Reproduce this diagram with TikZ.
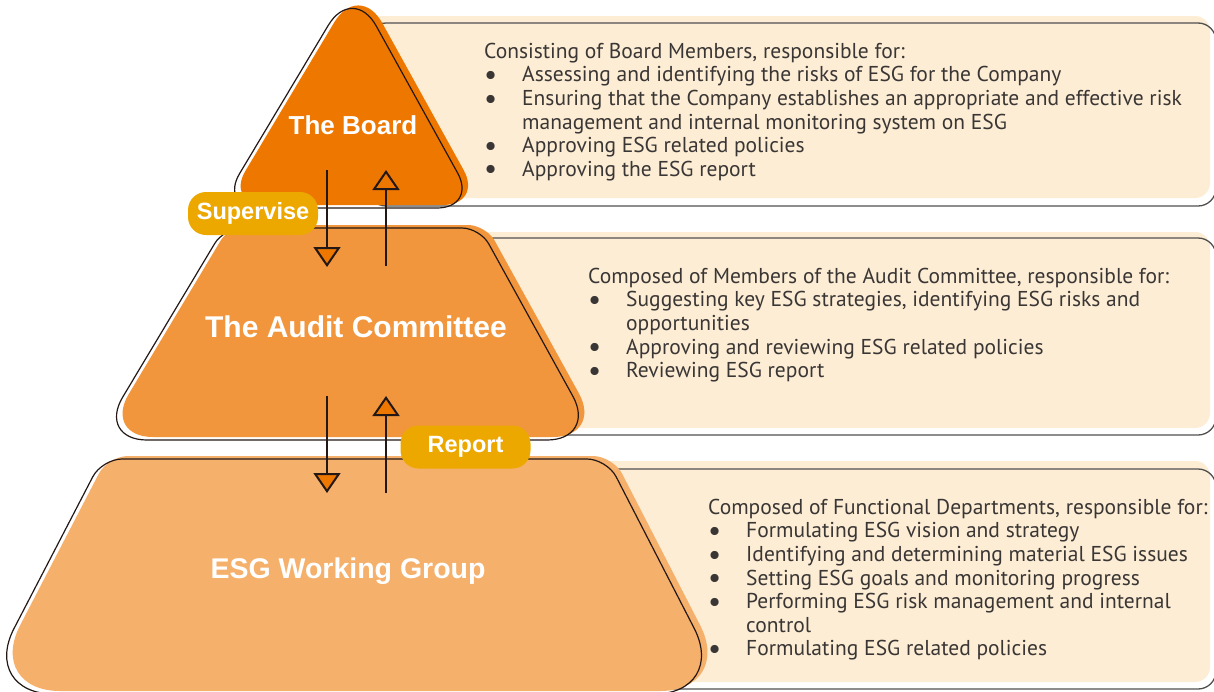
\documentclass[tikz,border=0pt]{standalone}
\usepackage{fontspec}
\setmainfont{PT Sans}
\newfontfamily\headfont{Liberation Sans}
\usetikzlibrary{arrows.meta,calc}
\definecolor{boardC}{HTML}{EE7700}
\definecolor{auditC}{HTML}{F1963D}
\definecolor{esgC}{HTML}{F5B06B}
\definecolor{creamC}{HTML}{FCEDD4}
\definecolor{pillC}{HTML}{EDA800}
\definecolor{lineC}{HTML}{231815}
\definecolor{boxLineC}{HTML}{505050}
\definecolor{txtC}{HTML}{3A3635}
\newcommand{\bitem}{\makebox[38pt][l]{\raisebox{-2.6pt}[0pt][0pt]{\scalebox{1.35}{•}}}}
\newcommand{\bcont}{\hspace*{38pt}}
% rounded corner at #1, coming from #2, going to #3, insets #4 and #5
\newcommand{\rc}[5]{-- ($(#1)!#4pt!(#2)$) .. controls ($(#1)!0.45*#4pt!(#2)$) and ($(#1)!0.45*#5pt!(#3)$) .. ($(#1)!#5pt!(#3)$)}
\newcommand{\boardshape}{(348,208) \rc{477,208}{219,208}{353,-16}{40}{40} \rc{353,-16}{477,208}{219,208}{48}{48} \rc{219,208}{353,-16}{477,208}{40}{40} -- cycle}
\newcommand{\auditshape}{(347,440) \rc{597,440}{97,440}{480,228}{50}{50} \rc{480,228}{597,440}{224,228}{18}{18} \rc{224,228}{480,228}{97,440}{18}{18} \rc{97,440}{224,228}{597,440}{50}{50} -- cycle}
\newcommand{\esgshape}{(352,694) \rc{728,694}{-20,694}{607,459}{74}{74} \rc{607,459}{728,694}{102,459}{20}{20} \rc{102,459}{607,459}{-20,694}{20}{20} \rc{-20,694}{102,459}{728,694}{74}{74} -- cycle}
\begin{document}
\begin{tikzpicture}[x=1pt,y=-1pt,
  shapeline/.style={draw=lineC, line width=1.2pt},
  boxfill/.style={fill=creamC, rounded corners=15pt},
  boxline/.style={draw=boxLineC, line width=1.3pt, rounded corners=18pt},
  heading/.style={text=white, anchor=base, inner sep=0pt},
  pill/.style={fill=pillC, rounded corners=18pt, text=white, font=\headfont\bfseries\fontsize{23.5}{26}\selectfont, minimum width=130pt, minimum height=43pt, inner sep=0pt},
  body/.style={anchor=north west, inner sep=0pt, align=left, text=txtC, font=\fontsize{21.5}{23.6}\selectfont},
  arr/.style={draw=lineC, line width=2pt, -{Triangle[length=20pt, width=27pt, fill=boardC]}}]
\useasboundingbox (0,0) rectangle (1214,691);
\clip (0,0) rectangle (1214,691);
% cream boxes
\path[boxfill] (362,16) rectangle (1210,198);
\path[boxline] (368,23) rectangle (1216,206);
\path[boxfill] (470,232) rectangle (1210,428);
\path[boxline] (476,238) rectangle (1216,435);
\path[boxfill] (590,461) rectangle (1210,682);
\path[boxline] (596,469) rectangle (1216,689);
% pyramid layers
\begin{scope}[shift={(6,-3)}]
  \fill[boardC] \boardshape;
  \fill[auditC] \auditshape;
  \fill[esgC] \esgshape;
\end{scope}
\draw[shapeline] \boardshape;
\draw[shapeline] \auditshape;
\draw[shapeline] \esgshape;
% headings
\node[heading, font=\headfont\bfseries\fontsize{26}{30}\selectfont] (hBoard) at (353,134) {The Board};
\node[heading, font=\headfont\bfseries\fontsize{30}{34}\selectfont] (hAudit) at (356,337) {The Audit Committee};
\node[heading, font=\headfont\bfseries\fontsize{28.5}{32}\selectfont] (hESG) at (348,578) {ESG Working Group};
% arrows
\coordinate (d1s) at (327,170); \coordinate (d1e) at (327,267);
\coordinate (u1s) at (386,266); \coordinate (u1e) at (386,170);
\coordinate (d2s) at (327,396); \coordinate (d2e) at (327,493);
\coordinate (u2s) at (386,493); \coordinate (u2e) at (386,396);
\draw[arr] (d1s) -- (d1e);
\draw[arr] (u1s) -- (u1e);
\draw[arr] (d2s) -- (d2e);
\draw[arr] (u2s) -- (u2e);
% pills
\node[pill] (supervise) at (253,213.5) {Supervise};
\node[pill] (report) at (465.5,447) {Report};
% descriptions
\node[body] (t1) at (484,41.5) {\strut Consisting of Board Members, responsible for:\\
\bitem Assessing and identifying the risks of ESG for the Company\\
\bitem Ensuring that the Company establishes an appropriate and effective risk\\
\bcont management and internal monitoring system on ESG\\
\bitem Approving ESG related policies\\
\bitem Approving the ESG report};
\node[body] (t2) at (588,266.5) {\strut Composed of Members of the Audit Committee, responsible for:\\
\bitem Suggesting key ESG strategies, identifying ESG risks and\\
\bcont opportunities\\
\bitem Approving and reviewing ESG related policies\\
\bitem Reviewing ESG report};
\node[body] (t3) at (708,497.5) {\strut Composed of Functional Departments, responsible for:\\
\bitem Formulating ESG vision and strategy\\
\bitem Identifying and determining material ESG issues\\
\bitem Setting ESG goals and monitoring progress\\
\bitem Performing ESG risk management and internal\\
\bcont control\\
\bitem Formulating ESG related policies};
\end{tikzpicture}
\end{document}
